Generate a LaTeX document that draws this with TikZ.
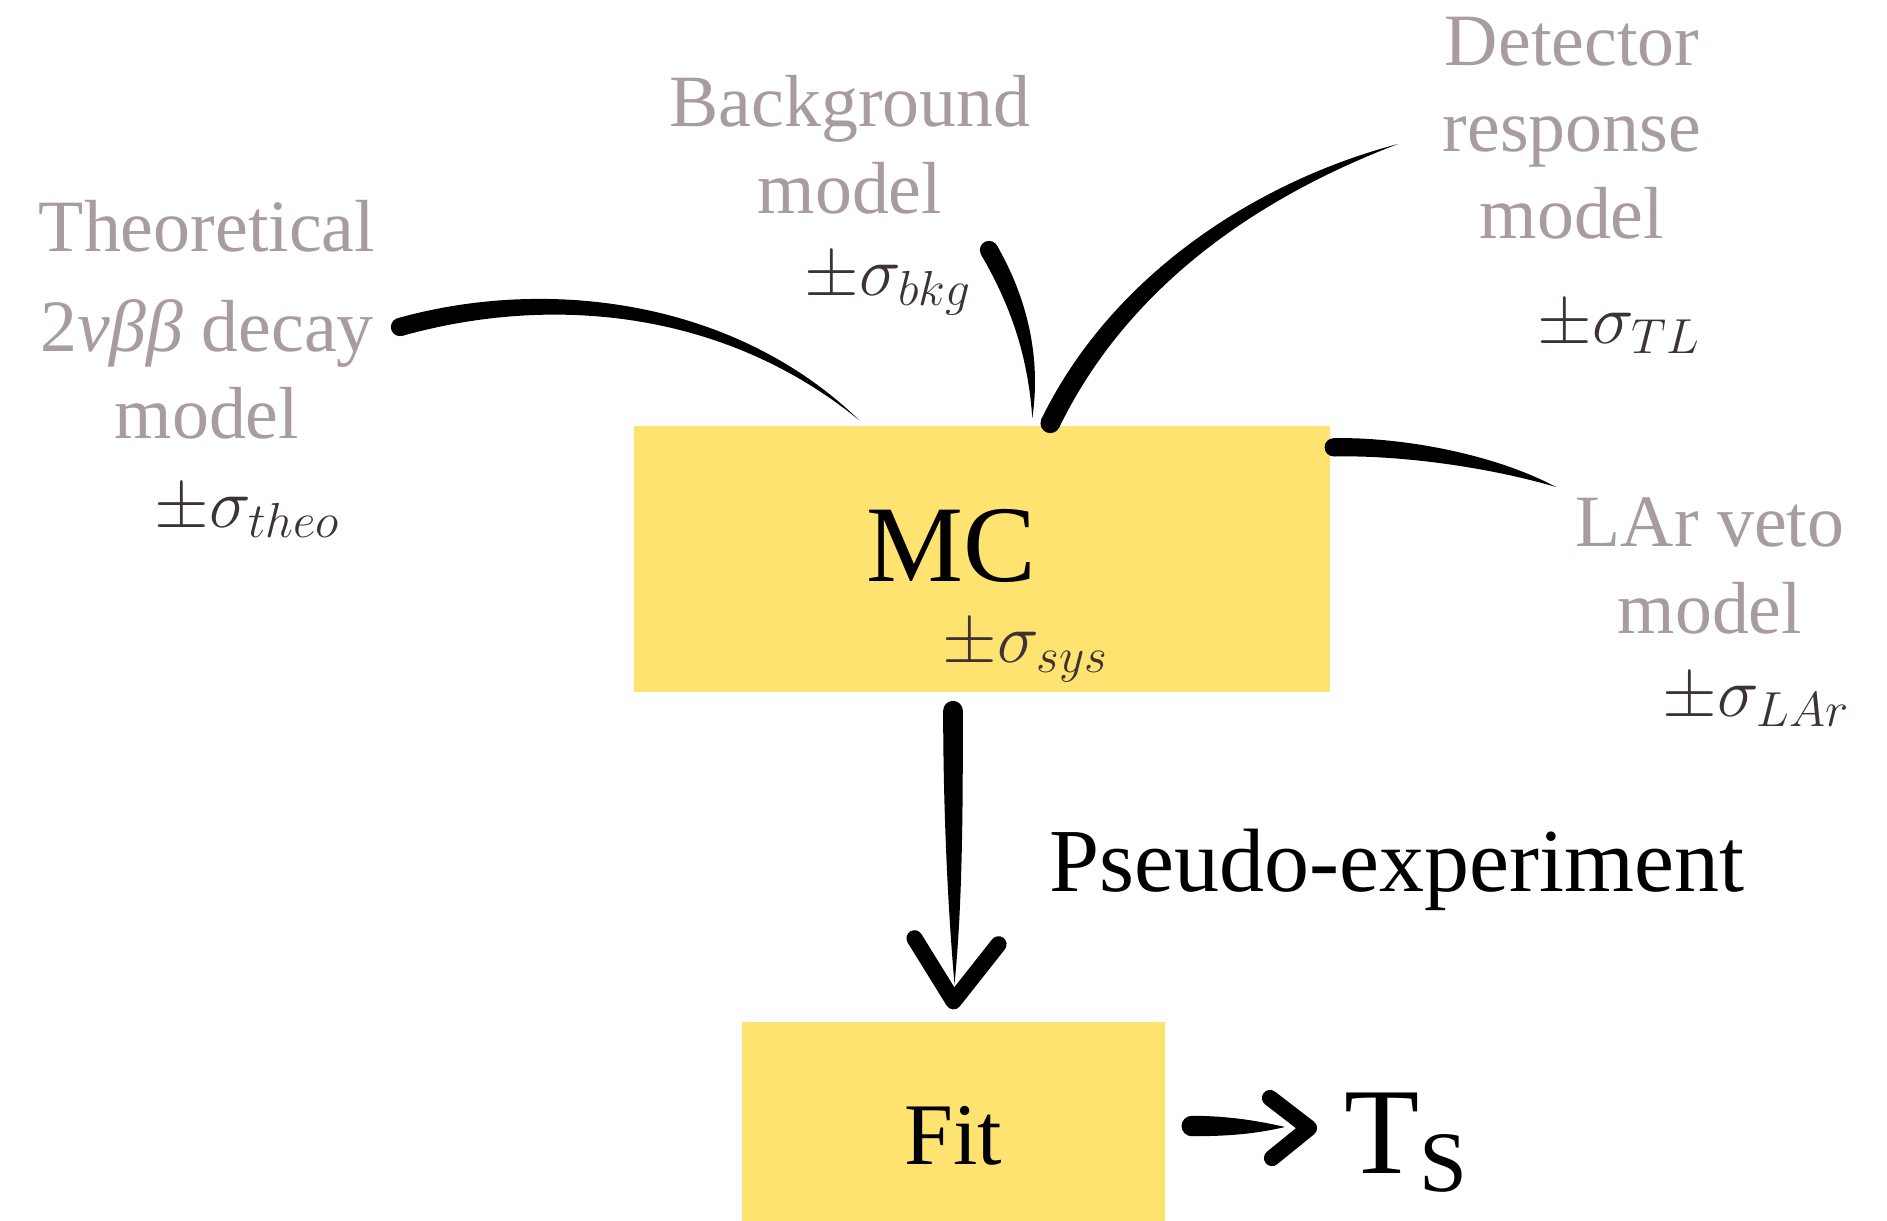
\RequirePackage{fix-cm}
\documentclass[tikz,border=0pt]{standalone}
\usepackage{fontspec}
\setmainfont{Liberation Serif}
\usetikzlibrary{calc}

\definecolor{boxyellow}{HTML}{FFE370}
\definecolor{labelgrey}{HTML}{A99C9F}
\definecolor{sigmadark}{HTML}{3D3336}

% tapered brush stroke: start, control 1, control 2, end, half width
\newcommand{\brushstroke}[5]{%
  \fill ($(#1)!#5!90:(#2)$)
    .. controls ($(#2)!#5!-90:(#1)$) and ($(#3)!0.8*#5!90:(#4)$) .. (#4)
    .. controls ($(#3)!0.8*#5!-90:(#4)$) and ($(#2)!#5!90:(#1)$) .. ($(#1)!#5!-90:(#2)$)
    -- cycle;
  \fill (#1) circle (#5);
}

\begin{document}
\begin{tikzpicture}[
  box/.style={fill=boxyellow, inner sep=0pt},
  model/.style={text=labelgrey, align=center, anchor=base, inner sep=0pt, font=\fontsize{21}{24.5}\selectfont},
  err/.style={text=sigmadark, anchor=base west, inner sep=0pt, font=\fontsize{20}{24}\selectfont},
  head/.style={line width=4.6pt, line cap=round, line join=round},
]
\useasboundingbox (0,0) rectangle (18.87,-12.21);

% boxes
\node[box, minimum width=6.96cm, minimum height=2.66cm] (mc) at (9.82,-5.59) {};
\node[box, minimum width=4.23cm, minimum height=1.99cm] (fit) at (9.535,-11.215) {};

\node[anchor=base, inner sep=0pt, font=\fontsize{31}{36}\selectfont] (mclabel) at (9.51,-5.81) {MC};
\node[err] (syserr) at (9.42,-6.62) {$\pm\sigma_{sys}$};
\node[anchor=base, inner sep=0pt, font=\fontsize{25}{30}\selectfont] (fitlabel) at (9.53,-11.64) {Fit};
\node[anchor=base west, inner sep=0pt, font=\fontsize{35}{40}\selectfont] (ts) at (13.44,-11.73) {T\textsubscript{S}};
\node[anchor=base west, inner sep=0pt, font=\fontsize{25.6}{30}\selectfont] (pseudo) at (10.49,-8.91) {Pseudo-experiment};

% inputs to the MC (base = last line)
\node[model] (theo) at (2.07,-4.38) {Theoretical\\[4pt] 2\textit{νββ} decay\\ model};
\node[err] (theoerr) at (1.54,-5.27) {$\pm\sigma_{theo}$};
\node[model] (bkg) at (8.50,-2.13) {Background\\ model};
\node[err] (bkgerr) at (8.04,-2.95) {$\pm\sigma_{bkg}$};
\node[model] (det) at (15.72,-2.38) {Detector\\ response\\ model};
\node[err] (deterr) at (15.37,-3.43) {$\pm\sigma_{TL}$};
\node[model] (lar) at (17.10,-6.33) {LAr veto\\ model};
\node[err] (larerr) at (16.62,-7.16) {$\pm\sigma_{LAr}$};

% stroke ends
\coordinate (theo-s) at (4.00,-3.27);
\coordinate (theo-e) at ($(mc.north west)+(2.26,0.05)$);
\coordinate (bkg-s) at (9.89,-2.50);
\coordinate (bkg-e) at ($(mc.north west)+(3.99,0.07)$);
\coordinate (det-s) at ($(mc.north west)+(4.17,0.02)$);
\coordinate (det-e) at (13.98,-1.44);
\coordinate (lar-s) at ($(mc.north east)+(0.03,-0.22)$);
\coordinate (lar-e) at (15.56,-4.87);
\coordinate (down-s) at ($(mc.south)+(-0.29,-0.18)$);
\coordinate (down-e) at ($(fit.north)+(0.01,0.37)$);
\coordinate (down-tip) at ($(fit.north)+(0,0.2)$);
\coordinate (ts-s) at ($(fit.east)+(0.26,-0.045)$);
\coordinate (ts-e) at (12.85,-11.27);
\coordinate (ts-tip) at (13.09,-11.28);

% brush strokes
\brushstroke{theo-s}{5.5,-2.85}{7.3,-3.05}{theo-e}{2.6pt}
\brushstroke{bkg-s}{10.15,-2.95}{10.35,-3.5}{bkg-e}{2.6pt}
\brushstroke{det-s}{11.2,-2.8}{12.58,-1.89}{det-e}{2.8pt}
\brushstroke{lar-s}{14.0,-4.46}{14.9,-4.6}{lar-e}{2.6pt}

% arrows
\brushstroke{down-s}{9.53,-8.0}{9.55,-9.0}{down-e}{2.8pt}
\draw[head] ($(down-tip)+(-0.39,0.63)$) -- (down-tip) -- ($(down-tip)+(0.45,0.57)$);
\brushstroke{ts-s}{12.2,-11.26}{12.5,-11.27}{ts-e}{2.9pt}
\draw[head] ($(ts-tip)+(-0.39,0.30)$) -- (ts-tip) -- ($(ts-tip)+(-0.37,-0.30)$);
\end{tikzpicture}
\end{document}
